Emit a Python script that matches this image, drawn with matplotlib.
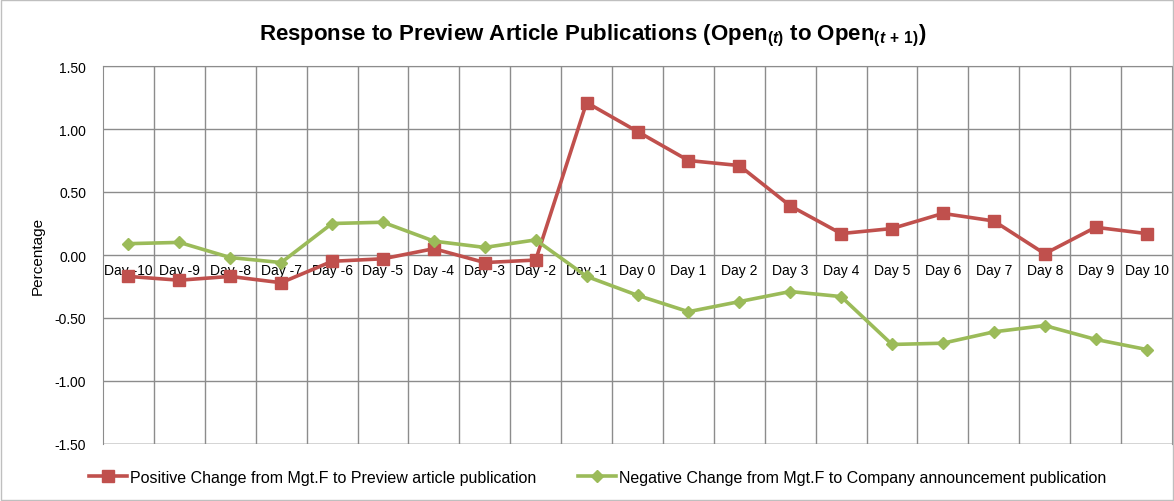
import matplotlib.pyplot as plt
from matplotlib.patches import Rectangle

plt.rcParams['font.family'] = ['Liberation Sans', 'DejaVu Sans']
plt.rcParams['mathtext.fontset'] = 'custom'
plt.rcParams['mathtext.rm'] = 'Liberation Sans:bold'
plt.rcParams['mathtext.it'] = 'Liberation Sans:italic:bold'

days = [f"Day {d}" for d in range(-10, 11)]
positive = [-0.17, -0.20, -0.17, -0.22, -0.05, -0.03, 0.05, -0.06, -0.04, 1.21, 0.98,
            0.75, 0.71, 0.39, 0.17, 0.21, 0.33, 0.27, 0.01, 0.22, 0.17]
negative = [0.09, 0.10, -0.02, -0.06, 0.25, 0.26, 0.11, 0.06, 0.12, -0.17, -0.32,
            -0.45, -0.37, -0.29, -0.33, -0.71, -0.70, -0.61, -0.56, -0.67, -0.75]
yticks = [-1.5, -1.0, -0.5, 0.0, 0.5, 1.0, 1.5]

red = '#C0504D'
green = '#9BBB59'
grid_col = '#8C8C8C'

fig = plt.figure(figsize=(11.74, 5.02), dpi=100)
ax = fig.add_axes([103 / 1174, 57 / 502, 1069 / 1174, 378 / 502])

x = list(range(len(days)))
ax.plot(x, positive, color=red, lw=2.6, marker='s', ms=8, mec=red, mfc=red,
        label='Positive Change from Mgt.F to Preview article publication', zorder=3)
ax.plot(x, negative, color=green, lw=2.6, marker='D', ms=6, mec=green, mfc=green,
        label='Negative Change from Mgt.F to Company announcement publication', zorder=3)

ax.set_xlim(-0.5, len(days) - 0.5)
ax.set_ylim(-1.5, 1.5)
ax.set_yticks(yticks)
ax.set_yticklabels([f"{v:.2f}" for v in yticks], fontsize=10)
ax.set_xticks(x)
ax.set_xticklabels(days, fontsize=10)
ax.set_xticks([i + 0.5 for i in x[:-1]], minor=True)
ax.tick_params(axis='x', which='both', length=0, pad=6)
ax.tick_params(axis='y', length=0, pad=12)

ax.spines['bottom'].set_position(('data', 0))
ax.spines['bottom'].set_visible(False)
for s in ['top', 'left', 'right']:
    ax.spines[s].set_color(grid_col)
ax.axhline(-1.5, color=grid_col, lw=1, zorder=1)

ax.grid(True, axis='y', which='major', color=grid_col, lw=1)
ax.grid(True, axis='x', which='minor', color=grid_col, lw=1)
ax.set_axisbelow(True)

ax.set_ylabel('Percentage', fontsize=11, labelpad=7)
fig.text(0.505, 0.928,
         r'Response to Preview Article Publications (Open$_{(t)}$ to Open$_{(t\,+\,1)}$)',
         ha='center', va='center', fontsize=16, fontweight='bold')

fig.legend(*ax.get_legend_handles_labels(), loc='center', bbox_to_anchor=(0.509, 0.047),
           ncol=2, frameon=False, fontsize=11.5, columnspacing=2.6,
           handlelength=2.4, handletextpad=0.2)

fig.patches.append(Rectangle((0.001, 0.002), 0.998, 0.996, transform=fig.transFigure,
                             fill=False, edgecolor='#BFBFBF', lw=1))

fig.savefig('out.png', dpi=100)
